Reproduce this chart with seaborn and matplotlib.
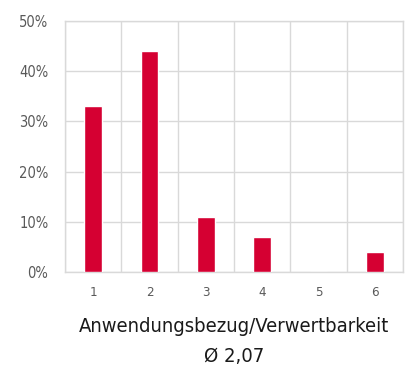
import matplotlib
matplotlib.use("Agg")
import matplotlib.pyplot as plt
from matplotlib.ticker import FixedLocator, PercentFormatter
import seaborn as sns
import pandas as pd

grades = ["1", "2", "3", "4", "5", "6"]
shares = [33, 44, 11, 7, 0, 4]
y_ticks = [0, 10, 20, 30, 40, 50]
x_title = "Anwendungsbezug/Verwertbarkeit"
mean_label = "Ø 2,07"

sns.set_theme(style="white")
plt.rcParams["font.family"] = ["DejaVu Sans"]
plt.rcParams["font.stretch"] = "condensed"

df = pd.DataFrame({"grade": grades, "share": shares})

fig = plt.figure(figsize=(4.06, 3.81), dpi=100)
ax = fig.add_axes([65 / 406, 109 / 381, 338 / 406, 251 / 381])

sns.barplot(data=df, x="grade", y="share", color="#D50032", saturation=1,
            width=0.31, ax=ax, zorder=3)

ax.set_ylim(0, 50)
ax.set_xlim(-0.5, len(grades) - 0.5)
ax.yaxis.set_major_locator(FixedLocator(y_ticks))
ax.yaxis.set_major_formatter(PercentFormatter(decimals=0))
ax.xaxis.set_minor_locator(FixedLocator([i - 0.5 for i in range(len(grades) + 1)]))

grid_col = "#D9D9D9"
ax.grid(axis="y", which="major", color=grid_col, linewidth=1.0, zorder=0)
ax.grid(axis="x", which="minor", color=grid_col, linewidth=1.0, zorder=0)
ax.grid(axis="x", which="major", visible=False)
for s in ax.spines.values():
    s.set_color(grid_col)
    s.set_linewidth(1.0)

ax.tick_params(axis="both", which="both", length=0)
ax.tick_params(axis="y", labelsize=10.5, labelcolor="#595959", pad=12)
ax.tick_params(axis="x", labelsize=9.5, labelcolor="#595959", pad=10)

ax.set_xlabel(x_title, fontsize=14.5, color="#1a1a1a", labelpad=13)
ax.set_ylabel("")
fig.text(234 / 406, 1 - 357 / 381, mean_label, fontsize=14.5, color="#1a1a1a",
         ha="center", va="center")

fig.savefig("out.png", dpi=100, facecolor="white")
